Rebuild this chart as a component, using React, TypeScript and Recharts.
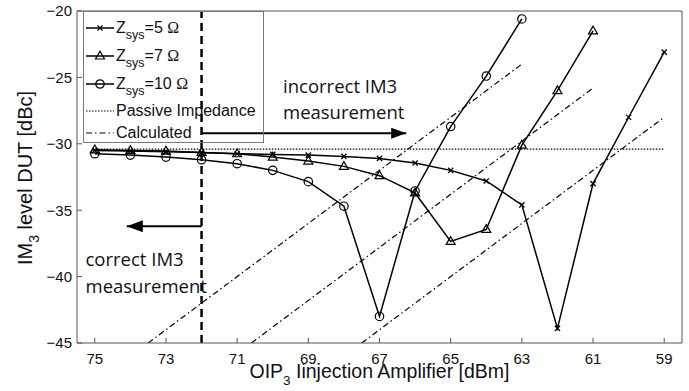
import React from 'react';
import { LineChart, Line, XAxis, YAxis, ReferenceLine, Legend } from 'recharts';

document.body.style.margin = '0';

// OIP3 of the injection amplifier [dBm]
const oip3 = [75, 74, 73, 72, 71, 70, 69, 68, 67, 66, 65, 64, 63, 62, 61, 60, 59];
// IM3 level DUT [dBc] per system impedance
const zsys5 = [-30.5, -30.55, -30.6, -30.65, -30.75, -30.8, -30.85, -30.95, -31.1, -31.45, -32.0, -32.8, -34.6, -43.9, -33.0, -28.0, -23.1];
const zsys7 = [-30.45, -30.5, -30.55, -30.65, -30.75, -31.0, -31.3, -31.7, -32.4, -33.7, -37.35, -36.45, -30.1, -26.0, -21.5];
const zsys10 = [-30.75, -30.85, -31.0, -31.2, -31.5, -32.0, -32.85, -34.7, -43.0, -33.55, -28.7, -24.9, -20.6];
const passiveLevel = -30.4;

// calculated lines (slope 2 dB/dB)
const calcStartX = [73.5, 70.6, 67.5];
const calcEndX = [63, 61, 59];
const calcStartY = -45;
const calcEndY = [-24, -25.8, -28];

const xTicks = [75, 73, 71, 69, 67, 65, 63, 61, 59];
const yTicks = [-45, -40, -35, -30, -25, -20];

const boundary = 72;
const leftArrow = { y: -36.2, tip: 74.1 };
const rightArrow = { y: -29.2, tip: 66.25 };

const table = oip3.map((x, i) => ({
  x,
  z5: zsys5[i],
  z7: zsys7[i],
  z10: zsys10[i],
  passive: passiveLevel,
}));

const calcLines = calcStartX.map((sx, i) => [
  { x: sx, y: calcStartY },
  { x: calcEndX[i], y: calcEndY[i] },
]);

const fmt = (v: number) => (v < 0 ? '\u2212' + Math.abs(v) : String(v));

const axisColor = '#555';
const sans = '"Liberation Sans", Arial, sans-serif';

const XMark = (p: any) => {
  const { cx, cy, index } = p;
  if (cx == null || cy == null) return <g key={index} />;
  const s = 2.6;
  return (
    <path key={index} d={`M${cx - s},${cy - s}L${cx + s},${cy + s}M${cx - s},${cy + s}L${cx + s},${cy - s}`} stroke="#000" strokeWidth={1.3} fill="none" />
  );
};

const TriMark = (p: any) => {
  const { cx, cy, index } = p;
  if (cx == null || cy == null) return <g key={index} />;
  return (
    <polygon key={index} points={`${cx},${cy - 4.8} ${cx - 4.5},${cy + 3} ${cx + 4.5},${cy + 3}`} stroke="#000" strokeWidth={1.2} fill="none" />
  );
};

const CircMark = (p: any) => {
  const { cx, cy, index } = p;
  if (cx == null || cy == null) return <g key={index} />;
  return <circle key={index} cx={cx} cy={cy} r={4.2} stroke="#000" strokeWidth={1.2} fill="none" />;
};

const headLeft = (p: any) =>
  p.index === 1 ? (
    <polygon key={p.index} points={`${p.cx},${p.cy} ${p.cx + 16},${p.cy - 6} ${p.cx + 16},${p.cy + 6}`} fill="#000" />
  ) : (
    <g key={p.index} />
  );

const headRight = (p: any) =>
  p.index === 1 ? (
    <polygon key={p.index} points={`${p.cx},${p.cy} ${p.cx - 15},${p.cy - 5.5} ${p.cx - 15},${p.cy + 5.5}`} fill="#000" />
  ) : (
    <g key={p.index} />
  );

const Sample = ({ dash, marker }: { dash?: string; marker?: React.ReactNode }) => (
  <svg width={31} height={22} style={{ display: 'block', flex: 'none' }}>
    <line x1={2} y1={11} x2={30} y2={11} stroke="#000" strokeWidth={dash ? 1.2 : 1.5} strokeDasharray={dash} />
    {marker}
  </svg>
);

const ZLabel = ({ ohm }: { ohm: number }) => (
  <span>
    Z<span style={{ fontSize: 12.5, position: 'relative', top: 6 }}>sys</span>={ohm}{' '}
    <span style={{ fontFamily: '"Liberation Serif", "DejaVu Serif", serif', fontSize: 16 }}>Ω</span>
  </span>
);

const legendRows = [
  { c: 16, sample: <Sample marker={XMark({ cx: 16, cy: 11, index: 0 })} />, label: <ZLabel ohm={5} /> },
  { c: 44, sample: <Sample marker={TriMark({ cx: 16, cy: 11, index: 0 })} />, label: <ZLabel ohm={7} /> },
  { c: 72, sample: <Sample marker={CircMark({ cx: 16, cy: 11, index: 0 })} />, label: <ZLabel ohm={10} /> },
  { c: 99, sample: <Sample dash="1.5 1.5" />, label: <span>Passive Impedance</span> },
  { c: 121, sample: <Sample dash="6 3 1.5 3" />, label: <span>Calculated</span> },
];

const LegendBox = () => (
  <div style={{ position: 'relative', width: '100%', height: '100%', fontFamily: sans, fontSize: 16, color: '#111' }}>
    {legendRows.map((r, i) => (
      <div key={i} style={{ position: 'absolute', left: 0, top: r.c - 11, height: 22, display: 'flex', alignItems: 'center', whiteSpace: 'nowrap' }}>
        {r.sample}
        <span style={{ marginLeft: 1 }}>{r.label}</span>
      </div>
    ))}
  </div>
);

const note: React.CSSProperties = {
  position: 'absolute',
  fontFamily: '"Open Sans", sans-serif',
  fontSize: 18.5,
  lineHeight: '26.5px',
  color: '#111',
  whiteSpace: 'nowrap',
};

export default function App() {
  return (
    <div style={{ position: 'relative', width: 689, height: 391, background: '#fff' }}>
      <LineChart width={689} height={391} data={table} margin={{ top: 10, right: 6, bottom: 0, left: 20 }}>
        <XAxis
          dataKey="x"
          type="number"
          domain={[58.5, 75.5]}
          reversed
          allowDataOverflow
          ticks={xTicks}
          interval={0}
          height={48}
          tickSize={-5}
          tickMargin={15}
          stroke={axisColor}
          tick={{ fill: '#111', fontSize: 15, fontFamily: sans }}
          tickFormatter={fmt}
        />
        <XAxis
          xAxisId="top"
          orientation="top"
          dataKey="x"
          type="number"
          domain={[58.5, 75.5]}
          reversed
          allowDataOverflow
          ticks={xTicks}
          interval={0}
          height={1}
          tickSize={-5}
          tick={false}
          stroke={axisColor}
        />
        <YAxis
          type="number"
          domain={[-45, -20]}
          allowDataOverflow
          ticks={yTicks}
          interval={0}
          width={57}
          tickSize={-5}
          tickMargin={10}
          stroke={axisColor}
          tick={{ fill: '#111', fontSize: 15, fontFamily: sans }}
          tickFormatter={fmt}
        />
        <YAxis
          yAxisId="right"
          orientation="right"
          type="number"
          domain={[-45, -20]}
          allowDataOverflow
          ticks={yTicks}
          interval={0}
          width={1}
          tickSize={-5}
          tick={false}
          stroke={axisColor}
        />
        <Legend
          layout="vertical"
          align="center"
          verticalAlign="middle"
          content={LegendBox}
          wrapperStyle={{ left: 83, top: 11, width: 181, height: 132, border: '1px solid #777', boxSizing: 'border-box', background: 'transparent' }}
        />
        <Line dataKey="passive" stroke="#000" strokeWidth={1.3} strokeDasharray="1.5 1.5" dot={false} activeDot={false} isAnimationActive={false} legendType="none" />
        {calcLines.map((d, i) => (
          <Line key={'c' + i} data={d} dataKey="y" stroke="#000" strokeWidth={1.2} strokeDasharray="6 3 1.5 3" dot={false} activeDot={false} isAnimationActive={false} legendType="none" />
        ))}
        <Line dataKey="z5" stroke="#000" strokeWidth={1.5} dot={XMark} activeDot={false} isAnimationActive={false} />
        <Line dataKey="z7" stroke="#000" strokeWidth={1.5} dot={TriMark} activeDot={false} isAnimationActive={false} />
        <Line dataKey="z10" stroke="#000" strokeWidth={1.5} dot={CircMark} activeDot={false} isAnimationActive={false} />
        <ReferenceLine x={boundary} stroke="#000" strokeWidth={2.5} strokeDasharray="8 5" />
        <Line
          data={[{ x: boundary, y: leftArrow.y }, { x: leftArrow.tip, y: leftArrow.y }]}
          dataKey="y"
          stroke="#000"
          strokeWidth={2}
          dot={headLeft}
          activeDot={false}
          isAnimationActive={false}
          legendType="none"
        />
        <Line
          data={[{ x: boundary, y: rightArrow.y }, { x: rightArrow.tip, y: rightArrow.y }]}
          dataKey="y"
          stroke="#000"
          strokeWidth={2}
          dot={headRight}
          activeDot={false}
          isAnimationActive={false}
          legendType="none"
        />
      </LineChart>

      <div style={{ ...note, left: 283, top: 73, lineHeight: '26px' }}>
        incorrect IM3
        <br />
        measurement
      </div>
      <div style={{ ...note, left: 85.5, top: 246 }}>
        correct IM3
        <br />
        measurement
      </div>

      <div
        style={{
          position: 'absolute',
          left: 379.5,
          top: 361,
          transform: 'translateX(-50%)',
          fontFamily: sans,
          fontSize: 19.5,
          lineHeight: '20px',
          color: '#111',
          whiteSpace: 'nowrap',
        }}
      >
        OIP<span style={{ fontSize: 13.5, position: 'relative', top: 7 }}>3</span> Iinjection Amplifier [dBm]
      </div>
      <div
        style={{
          position: 'absolute',
          left: 26,
          top: 177.5,
          transform: 'translate(-50%, -50%) rotate(-90deg)',
          fontFamily: sans,
          fontSize: 20,
          lineHeight: '20px',
          color: '#111',
          whiteSpace: 'nowrap',
        }}
      >
        IM<span style={{ fontSize: 14, position: 'relative', top: 7 }}>3</span> level DUT [dBc]
      </div>
    </div>
  );
}
